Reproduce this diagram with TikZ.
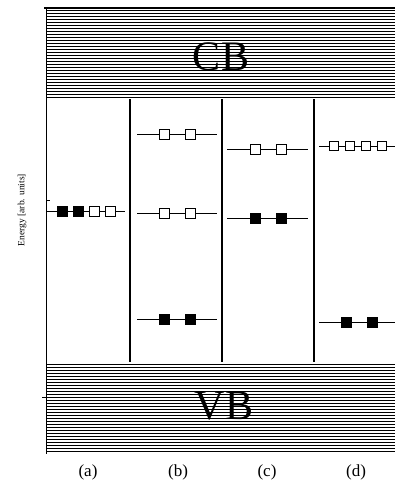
\documentclass[tikz,border=0pt]{standalone}
\usepackage{fontspec}
\setmainfont{Liberation Serif}
\begin{document}
\begin{tikzpicture}[x=1pt,y=-1pt,
  occ/.style={draw,fill=black,minimum size=10pt,inner sep=0pt,line width=0.8pt},
  unocc/.style={draw,fill=white,minimum size=10pt,inner sep=0pt,line width=1pt},
  divider/.style={line width=2.6pt},
  level/.style={line width=0.9pt}]

  \useasboundingbox (0,0) rectangle (395,485);

  % conduction and valence bands (hatched)
  \foreach \y in {10,13,...,97} \draw[line width=0.8pt] (46,\y) -- (395,\y);
  \foreach \y in {364,367,...,452} \draw[line width=0.8pt] (46,\y) -- (395,\y);
  \draw[line width=2pt] (44,8) -- (395,8);
  \draw[line width=1pt] (46,8) -- (46,454);
  \node (cb) at (221,57) {\fontsize{42}{42}\selectfont CB};
  \node (vb) at (224,406) {\fontsize{42}{42}\selectfont VB};

  % panels
  \draw[divider] (130,99) -- (130,362);
  \draw[divider] (222,99) -- (222,362);
  \draw[divider] (314,99) -- (314,362);
  \draw (46,200) -- (50,200);
  \draw (42,397) -- (46,397);
  \node[rotate=90] (elabel) at (22,210) {\fontsize{9.5}{9.5}\selectfont Energy [arb. units]};

  % (a)
  \draw[level] (47,211) -- (125,211);
  \node[occ] (a1) at (62,211) {};
  \node[occ] (a2) at (78,211) {};
  \node[unocc] (a3) at (94,211) {};
  \node[unocc] (a4) at (110,211) {};

  % (b)
  \draw[level] (137,134) -- (217,134);
  \draw[level] (137,213) -- (217,213);
  \draw[level] (137,319) -- (217,319);
  \foreach \x [count=\i] in {164,190} {
    \node[unocc] (bt\i) at (\x,134) {};
    \node[unocc] (bm\i) at (\x,213) {};
    \node[occ] (bb\i) at (\x,319) {};
  }

  % (c)
  \draw[level] (227,149) -- (308,149);
  \draw[level] (227,218) -- (308,218);
  \foreach \x [count=\i] in {255,281} {
    \node[unocc] (ct\i) at (\x,149) {};
    \node[occ] (cb\i) at (\x,218) {};
  }

  % (d)
  \draw[level] (319,146) -- (395,146);
  \draw[level] (319,322) -- (395,322);
  \foreach \x [count=\i] in {334,350,366,382}
    \node[unocc,minimum size=9pt] (dt\i) at (\x,146) {};
  \foreach \x [count=\i] in {346,372}
    \node[occ] (db\i) at (\x,322) {};

  \foreach \x/\l in {88/a,178/b,267/c,356/d}
    \node (lab\l) at (\x,472) {\fontsize{17}{17}\selectfont (\l)};

\end{tikzpicture}
\end{document}
